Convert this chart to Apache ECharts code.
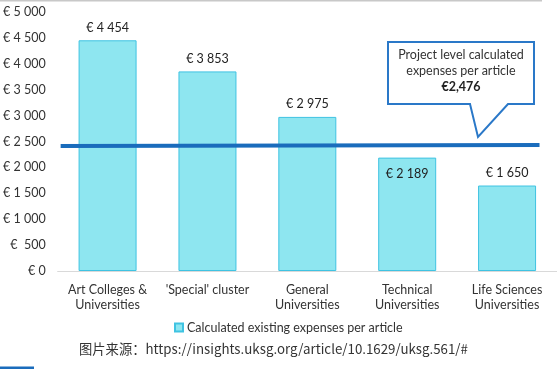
<!DOCTYPE html>
<html>
<head>
<meta charset="utf-8">
<script src="https://cdn.jsdelivr.net/npm/echarts@6/dist/echarts.min.js"></script>
<style>
html,body{margin:0;padding:0;background:#fff;}
#c{width:557px;height:369px;}
</style>
</head>
<body>
<div id="c"></div>
<script>
var categories = ['Art Colleges &\nUniversities', "'Special' cluster", 'General\nUniversities', 'Technical\nUniversities', 'Life Sciences\nUniversities'];
var values = [4454, 3853, 2975, 2189, 1650];
var barLabels = ['€ 4 454', '€ 3 853', '€ 2 975', '€ 2 189', '€ 1 650'];
var yTicks = [0, 500, 1000, 1500, 2000, 2500, 3000, 3500, 4000, 4500, 5000];
var projectLine = [[0.006, 2413], [0.965, 2432]];
var seriesName = 'Calculated existing expenses per article';
var calloutText = ['Project level calculated', 'expenses per article', '€2,476'];

function fmtEuro(v) {
  var s = String(v).replace(/\B(?=(\d{3})+(?!\d))/g, ' ');
  return v === 500 ? '€  ' + s : '€ ' + s;
}

var chart = echarts.init(document.getElementById('c'));
var font = 'Lato, "Open Sans", sans-serif';
chart.setOption({
  animation: false,
  textStyle: { fontFamily: font },
  grid: { left: 54, right: 0, top: 12, height: 259, containLabel: false },
  legend: {
    data: [seriesName],
    left: 169, top: 316,
    itemWidth: 8, itemHeight: 8, itemGap: 4,
    icon: 'rect',
    textStyle: { fontSize: 12.5, color: '#333', fontFamily: font, padding: [0, 0, 0, -1] }
  },
  xAxis: [{
    type: 'category',
    data: categories,
    axisLine: { lineStyle: { color: '#d9d9d9', width: 1 } },
    axisTick: { show: false },
    axisLabel: { color: '#333', fontSize: 12.5, lineHeight: 15, margin: 11, interval: 0 }
  }, {
    type: 'value', min: 0, max: 1, show: false
  }],
  yAxis: {
    type: 'value', min: 0, max: 5000, interval: 500,
    axisLine: { show: false }, axisTick: { show: false },
    splitLine: { show: false },
    axisLabel: { color: '#333', fontSize: 12.5, margin: 12,
      formatter: function (v) { return yTicks.indexOf(v) >= 0 ? fmtEuro(v) : ''; } }
  },
  series: [{
    name: seriesName,
    type: 'bar',
    data: values.map(function (v, i) {
      return { value: v, label: { position: i === 3 ? 'insideTop' : 'top', distance: i === 3 ? 10 : 6 } };
    }),
    barWidth: 58,
    itemStyle: { color: '#8ee6f0', borderColor: '#3fc3e2', borderWidth: 1 },
    label: { show: true, color: '#222', fontSize: 12.5,
      formatter: function (p) { return barLabels[p.dataIndex]; } }
  }, {
    type: 'line',
    xAxisIndex: 1,
    data: projectLine,
    symbol: 'none',
    lineStyle: { color: '#1a6cbc', width: 4 },
    silent: true,
    z: 5
  }],
  graphic: [
    { type: 'rect', shape: { x: 0, y: 0, width: 542, height: 1.5 }, style: { fill: '#c8c8c8' } },
    { type: 'rect', shape: { x: 0, y: 366.5, width: 34, height: 2.5 }, style: { fill: '#1a6cbc' } },
    { type: 'polygon', z: 10,
      shape: { points: [[388, 42], [534, 42], [534, 104], [508, 104], [478, 137], [470, 104], [388, 104]] },
      style: { fill: '#fff', stroke: '#2a78c8', lineWidth: 2 } },
    { type: 'text', z: 11, style: { x: 461, y: 55, text: calloutText[0], align: 'center', verticalAlign: 'middle', fontSize: 12.5, fill: '#333', fontFamily: font } },
    { type: 'text', z: 11, style: { x: 461, y: 71, text: calloutText[1], align: 'center', verticalAlign: 'middle', fontSize: 12.5, fill: '#333', fontFamily: font } },
    { type: 'text', z: 11, style: { x: 461, y: 87, text: calloutText[2], align: 'center', verticalAlign: 'middle', fontSize: 12.5, fontWeight: 'bold', fill: '#222', fontFamily: font } },
    { type: 'text', style: { x: 79, y: 349, text: '图片来源：https://insights.uksg.org/article/10.1629/uksg.561/#', verticalAlign: 'middle', fontSize: 13.3, fill: '#333', fontFamily: '"Noto Sans CJK SC", "DejaVu Sans", sans-serif' } }
  ]
});
</script>
</body>
</html>
